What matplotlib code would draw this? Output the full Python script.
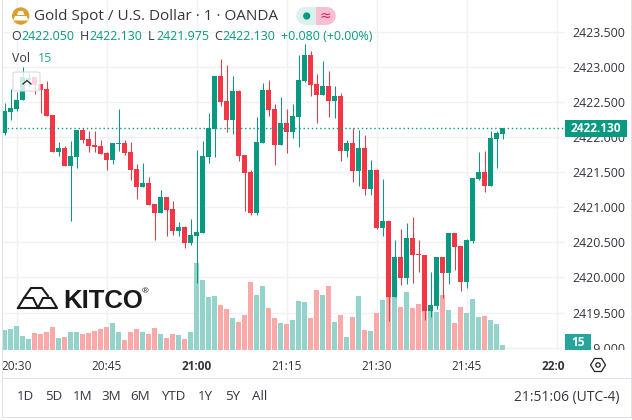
import numpy as np
import matplotlib.pyplot as plt
from matplotlib.patches import Rectangle, Ellipse, FancyBboxPatch, Polygon
from matplotlib.transforms import Bbox

# one bar per minute, minutes counted from 20:30
minutes = np.arange(-2, 82)

opens = [2422.057, 2422.356, 2422.399, 2422.527, 2422.812, 2422.855, 2422.755, 2422.684, 2422.313, 2421.787, 2421.844, 2421.588,
         2421.716, 2422.100, 2421.972, 2421.887, 2421.873, 2421.773, 2421.673, 2421.901, 2421.915, 2421.787, 2421.545, 2421.289,
         2421.346, 2421.047, 2420.919, 2421.147, 2420.976, 2420.663, 2420.720, 2420.493, 2420.592, 2420.635, 2421.716, 2422.114,
         2422.869, 2422.513, 2422.242, 2422.655, 2421.745, 2421.502, 2420.919, 2421.915, 2422.669, 2422.399, 2421.887, 2422.199,
         2422.071, 2422.285, 2422.798, 2423.168, 2422.755, 2422.598, 2422.726, 2422.513, 2422.584, 2421.802, 2421.915, 2421.517,
         2421.844, 2421.260, 2421.531, 2420.706, 2420.806, 2419.721, 2420.293, 2419.993, 2420.564, 2420.336, 2420.322, 2419.524,
         2419.595, 2420.293, 2420.065, 2420.635, 2420.450, 2419.936, 2420.521, 2421.403, 2421.502, 2421.303, 2421.972, 2422.050]
highs = [2422.484, 2422.684, 2422.641, 2423.001, 2422.912, 2422.855, 2422.755, 2422.798, 2422.313, 2421.930, 2421.873, 2421.944,
         2422.100, 2422.128, 2422.086, 2422.086, 2421.958, 2421.787, 2421.915, 2422.399, 2421.958, 2421.930, 2421.616, 2421.631,
         2421.431, 2421.047, 2421.246, 2421.147, 2421.090, 2420.791, 2420.735, 2420.834, 2421.816, 2421.944, 2422.342, 2422.869,
         2423.111, 2423.026, 2422.869, 2422.669, 2421.745, 2421.531, 2422.285, 2422.769, 2422.812, 2422.470, 2422.570, 2422.399,
         2422.470, 2423.168, 2423.325, 2423.225, 2422.897, 2423.083, 2422.940, 2422.726, 2422.627, 2421.958, 2422.128, 2422.100,
         2422.029, 2421.673, 2421.545, 2421.403, 2420.806, 2420.535, 2420.692, 2420.777, 2420.863, 2420.535, 2420.322, 2420.079,
         2420.293, 2420.293, 2420.635, 2420.635, 2420.450, 2420.550, 2421.417, 2421.787, 2421.802, 2422.086, 2422.086, 2422.130]
lows = [2422.029, 2422.242, 2422.370, 2422.527, 2422.712, 2422.612, 2422.342, 2422.299, 2421.787, 2421.730, 2421.588, 2420.806,
        2421.559, 2421.915, 2421.787, 2421.787, 2421.759, 2421.531, 2421.616, 2421.802, 2421.745, 2421.388, 2421.118, 2421.289,
        2421.033, 2420.535, 2420.919, 2420.592, 2420.606, 2420.592, 2420.421, 2420.464, 2419.922, 2420.635, 2421.631, 2421.716,
        2422.442, 2422.071, 2422.043, 2421.659, 2420.948, 2420.891, 2420.891, 2421.915, 2422.299, 2421.602, 2421.887, 2421.773,
        2421.986, 2421.858, 2422.783, 2422.584, 2422.199, 2422.598, 2422.285, 2422.271, 2421.659, 2421.716, 2421.360, 2421.303,
        2421.175, 2421.175, 2420.692, 2420.592, 2419.381, 2419.721, 2419.894, 2419.908, 2419.922, 2420.079, 2419.395, 2419.436,
        2419.552, 2419.707, 2419.908, 2420.108, 2419.809, 2419.851, 2420.493, 2421.388, 2421.218, 2421.303, 2421.559, 2421.975]
closes = [2422.370, 2422.413, 2422.527, 2422.855, 2422.840, 2422.741, 2422.669, 2422.299, 2421.787, 2421.844, 2421.588, 2421.730,
          2422.100, 2421.958, 2421.873, 2421.858, 2421.759, 2421.673, 2421.915, 2421.915, 2421.773, 2421.531, 2421.289, 2421.346,
          2421.033, 2420.919, 2421.147, 2420.962, 2420.663, 2420.720, 2420.493, 2420.606, 2420.649, 2421.730, 2422.128, 2422.869,
          2422.499, 2422.242, 2422.655, 2421.730, 2421.488, 2420.919, 2421.930, 2422.669, 2422.385, 2421.887, 2422.199, 2422.071,
          2422.299, 2422.812, 2423.168, 2422.741, 2422.598, 2422.726, 2422.513, 2422.584, 2421.802, 2421.915, 2421.517, 2421.844,
          2421.260, 2421.531, 2420.706, 2420.806, 2419.721, 2420.293, 2419.993, 2420.564, 2420.322, 2420.322, 2419.524, 2419.609,
          2420.293, 2420.065, 2420.635, 2420.436, 2419.936, 2420.535, 2421.417, 2421.502, 2421.303, 2421.986, 2422.057, 2422.130]
volumes = [60, 63, 72, 42, 33, 51, 48, 54, 69, 36, 39, 54, 54, 48, 51, 57, 63, 69, 81, 54, 30, 54, 63, 54, 48, 66, 48, 36, 48, 45, 33, 54,
           261, 210, 159, 162, 135, 123, 96, 84, 105, 204, 165, 192, 126, 96, 81, 78, 90, 147, 144, 96, 180, 165, 192, 84, 105, 39, 99, 162,
           60, 57, 111, 150, 159, 159, 129, 174, 126, 138, 120, 117, 114, 165, 120, 81, 129, 111, 153, 99, 102, 90, 78, 15]

price_ticks = [2419.0, 2419.5, 2420.0, 2420.5, 2421.0, 2421.5, 2422.0, 2422.5, 2423.0, 2423.5]
time_ticks = [0, 15, 30, 45, 60, 75, 90]
time_labels = ['20:30', '20:45', '21:00', '21:15', '21:30', '21:45', '22:00']
last_price = 2422.130
ranges = ['1D', '5D', '1M', '3M', '6M', 'YTD', '1Y', '5Y', 'All']
range_x = [25.5, 53.5, 82.5, 111, 140, 173, 205, 232.5, 260]

UP = '#089981'
DOWN = '#f23645'
TEAL = '#26a69a'
DARK = '#33363f'
W, H = 632, 420
FONT = 'Open Sans'

plt.rcParams['font.family'] = FONT


def fx(x):
    return x / W


def fy(y):
    return 1 - y / H


def put(x, y, s, **kw):
    kw.setdefault('color', DARK)
    kw.setdefault('va', 'center')
    kw.setdefault('zorder', 8)
    return fig.text(fx(x), fy(y), s, **kw)


def box(x0, y0, x1, y1, **kw):
    kw.setdefault('linewidth', 0)
    kw.setdefault('zorder', 5)
    fig.add_artist(Rectangle((fx(x0), fy(y1)), fx(x1 - x0), y1 / H - y0 / H, transform=fig.transFigure, **kw))


def shape(pts, **kw):
    kw.setdefault('linewidth', 0)
    kw.setdefault('zorder', 6)
    fig.add_artist(Polygon([(fx(a), fy(b)) for a, b in pts], transform=fig.transFigure, **kw))


def disc(x, y, r, **kw):
    kw.setdefault('linewidth', 0)
    kw.setdefault('zorder', 6)
    fig.add_artist(Ellipse((fx(x), fy(y)), 2 * r / W, 2 * r / H, transform=fig.transFigure, **kw))


fig = plt.figure(figsize=(W / 100, H / 100), dpi=100, facecolor='white')
rect = [fx(3), fy(350), fx(562), 350 / H]

# three layers on the same plot area: grid, volume, candles
ax_grid = fig.add_axes(rect, zorder=1)
ax_vol = fig.add_axes(rect, zorder=2, facecolor='none')
ax = fig.add_axes(rect, zorder=3, facecolor='none')

xlim = (-2.267, 91.4)
price_lim = (2418.966, 2423.952)
for a in (ax_grid, ax_vol, ax):
    a.set_xlim(xlim)
    for s in a.spines.values():
        s.set_visible(False)

opens, highs, lows, closes = map(np.array, (opens, highs, lows, closes))
is_up = closes >= opens
colors = np.where(is_up, UP, DOWN)
vol_colors = np.where(is_up, '#94d3cc', '#f9aaa8')

ax_grid.set_ylim(price_lim)
ax_grid.set_xticks(time_ticks)
ax_grid.set_yticks(price_ticks)
ax_grid.tick_params(length=0, labelbottom=False, labelleft=False)
ax_grid.grid(True, color='#f0f1f4', linewidth=1)

ax_vol.bar(minutes, volumes, width=0.83, color=vol_colors, linewidth=0)
ax_vol.set_ylim(0, 1050)
ax_vol.set_yticks([])
ax_vol.set_xticks([])

wicks = ax.vlines(minutes, lows, highs, colors=colors, linewidth=0.75, zorder=3)
wicks.set_snap(True)
ax.bar(minutes, np.abs(closes - opens), bottom=np.minimum(opens, closes), width=0.83, color=colors, linewidth=0, zorder=4)
ax.set_ylim(price_lim)

ax.set_yticks(price_ticks)
ax.set_yticklabels(['%.3f' % p for p in price_ticks])
ax.yaxis.tick_right()
ax.tick_params(axis='y', length=0, pad=5.6, labelsize=8.9, labelcolor=DARK)
ax.set_xticks(time_ticks)
ax.set_xticklabels(time_labels)
ax.tick_params(axis='x', length=0, pad=7, labelsize=8.6, labelcolor=DARK)
ax.axhline(last_price, color=UP, linewidth=1, linestyle=(0, (1, 2)), zorder=5)

# long labels get cut at the pane edges
for t in ax.get_xticklabels():
    if t.get_text() in ('21:00', '22:00'):
        t.set_fontweight('bold')
    t.set_clip_box(Bbox([[3, 0], [565, H]]))
    t.set_clip_on(True)
for t in ax.get_yticklabels():
    t.set_clip_box(Bbox([[565, 70], [W, H]]))
    t.set_clip_on(True)

# frame and panes
box(2, 0, 3, 417, color='#dfe1e7')
box(631, 0, 632, 417, color='#dfe1e7')
box(2, 417, 632, 418, color='#dfe1e7')
box(3, 378, 631, 379, color='#e0e3eb')

# price and volume tags
box(565, 120, 627, 137, color=UP, zorder=6)
put(596, 128.5, '%.3f' % last_price, color='white', fontsize=8.6, fontweight='bold', ha='center')
box(565, 334, 591, 350, color=TEAL, zorder=6)
put(578, 342, '15', color='white', fontsize=8.6, fontweight='bold', ha='center')

# header
disc(20.7, 16, 8.7, color='#d9a02f')
shape([(13, 20.5), (15, 16), (26.5, 16), (28.5, 20.5)], color='white', zorder=7)
shape([(17, 15), (18.5, 11), (23, 11), (24.5, 15)], color='white', zorder=7)
put(34, 16, 'Gold Spot / U.S. Dollar · 1 · OANDA', fontsize=11)

# market status pill
box(305, 7, 316, 24.7, color='#daf1ed')
disc(305, 15.9, 8.85, color='#daf1ed', zorder=5)
box(316, 7, 327, 24.7, color='#f7c0d2')
disc(327, 15.9, 8.85, color='#f7c0d2', zorder=5)
disc(306.7, 16, 3.6, color=UP, zorder=7)
put(325, 15.5, '≈', color='#e0245e', fontsize=10, ha='center', family='DejaVu Sans')

ohlc = [(11, 'O', DARK), (21, '2422.050', UP), (80, 'H', DARK), (89, '2422.130', UP), (148, 'L', DARK), (156, '2421.975', UP),
        (214, 'C', DARK), (222, '2422.130', UP), (281, '+0.080 (+0.00%)', UP)]
for x, s, c in ohlc:
    put(x, 36.5, s, color=c, fontsize=8.9)
put(12, 58, 'Vol', fontsize=8.9)
put(38, 58, '15', color=TEAL, fontsize=8.9)

# collapse button over the first candles
fig.add_artist(FancyBboxPatch((fx(13), fy(91)), fx(27), 19 / H, boxstyle='round,pad=0,rounding_size=0.004', transform=fig.transFigure,
                              facecolor=(1, 1, 1, 0.8), edgecolor='#d8dae0', linewidth=0.8, zorder=6))
fig.add_artist(plt.Line2D([fx(23), fx(27), fx(31)], [fy(84), fy(80.5), fy(84)], transform=fig.transFigure, color='#222222', linewidth=0.9, zorder=7))

# KITCO logo
logo = [[(18, 308), (24, 298), (33, 298), (38, 308), (18, 308)],
        [(38, 308), (43, 298), (51, 298), (57, 308), (38, 308)],
        [(24, 298), (31, 288), (42, 288), (48, 296)]]
for pts in logo:
    xs, ys = zip(*pts)
    fig.add_artist(plt.Line2D([fx(v) for v in xs], [fy(v) for v in ys], transform=fig.transFigure, color='#1a1a1a', linewidth=1.5, zorder=6))
put(63, 300.5, 'KITCO', color='#1a1a1a', fontsize=18.5, fontweight='bold', family='Liberation Sans')
put(145, 292, '®', color='#1a1a1a', fontsize=6, ha='center')

# settings hexagon
hex_x = [590.5, 594.5, 601.5, 605.5, 601.5, 594.5]
hex_y = [365, 358.5, 358.5, 365, 371.5, 371.5]
shape(list(zip(hex_x, hex_y)), facecolor='none', edgecolor='#222222', linewidth=0.9)
disc(598, 365, 2.2, facecolor='none', edgecolor='#222222', linewidth=0.9)

# bottom bar
for x, s in zip(range_x, ranges):
    put(x, 397, s, fontsize=9.6, ha='center')
put(620, 397, '21:51:06 (UTC-4)', fontsize=10, ha='right')

fig.savefig('out.png', dpi=100)
